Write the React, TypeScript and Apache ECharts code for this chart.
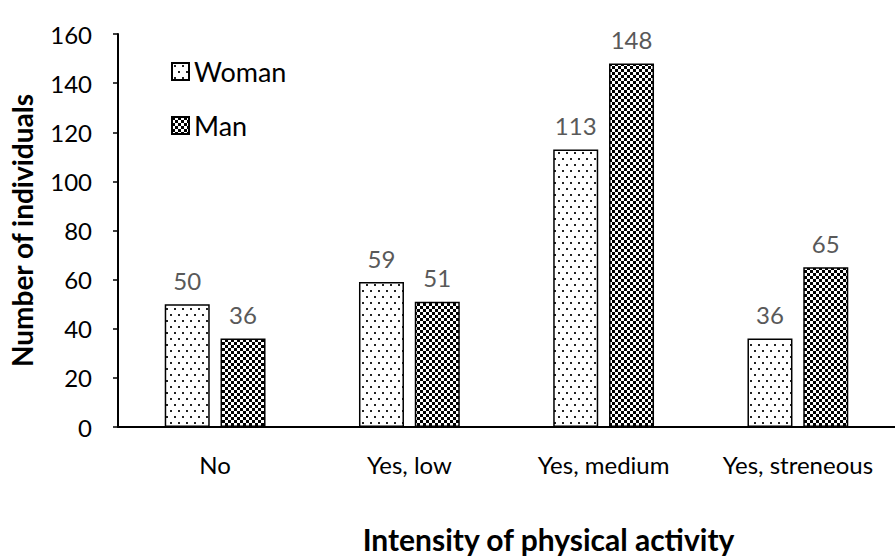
import React, { useEffect, useRef } from "react";
import * as echarts from "echarts";

const categories = ["No", "Yes, low", "Yes, medium", "Yes, streneous"];
const womanValues = [50, 59, 113, 36];
const manValues = [36, 51, 148, 65];
const seriesNames = ["Woman", "Man"];
const yTicks = { min: 0, max: 160, interval: 20 };

function makeDots(): HTMLCanvasElement {
  const c = document.createElement("canvas");
  c.width = 8;
  c.height = 12;
  const ctx = c.getContext("2d")!;
  ctx.fillStyle = "#ffffff";
  ctx.fillRect(0, 0, 8, 12);
  ctx.fillStyle = "#222222";
  ctx.fillRect(2, 2, 2, 2);
  ctx.fillRect(6, 8, 2, 2);
  return c;
}

function makeChecker(): HTMLCanvasElement {
  const c = document.createElement("canvas");
  c.width = 6;
  c.height = 6;
  const ctx = c.getContext("2d")!;
  ctx.fillStyle = "#ffffff";
  ctx.fillRect(0, 0, 6, 6);
  ctx.fillStyle = "#000000";
  ctx.fillRect(0, 0, 3, 3);
  ctx.fillRect(3, 3, 3, 3);
  return c;
}

export default function App() {
  const ref = useRef<HTMLDivElement>(null);
  useEffect(() => {
    document.body.style.margin = "0";
    if (!ref.current) return;
    const chart = echarts.init(ref.current, undefined, { renderer: "svg" });
    const dots = makeDots();
    const checker = makeChecker();
    const font = "Lato, 'Open Sans', sans-serif";
    const labelStyle = {
      show: true,
      position: "top" as const,
      distance: 12,
      color: "#595959",
      fontSize: 24,
      fontFamily: font,
    };
    chart.setOption({
      animation: false,
      textStyle: { fontFamily: font },
      grid: { left: 114, top: 34, width: 792, height: 399, containLabel: false },
      legend: {
        orient: "vertical",
        left: 166,
        top: 53,
        itemGap: 27,
        itemWidth: 17,
        itemHeight: 17,
        icon: "rect",
        textStyle: { fontSize: 27, color: "#000", fontFamily: font },
        data: seriesNames,
      },
      xAxis: {
        type: "category",
        data: categories,
        axisLine: { show: true, lineStyle: { color: "#000", width: 2 } },
        axisTick: { show: false },
        axisLabel: { color: "#000", fontSize: 24, margin: 25, fontFamily: font, interval: 0 },
        name: "Intensity of physical activity",
        nameLocation: "middle",
        nameGap: 97,
        nameTextStyle: {
          fontSize: 30,
          fontWeight: "bold",
          color: "#000",
          fontFamily: font,
          padding: [0, 0, 0, 84],
        },
      },
      yAxis: {
        type: "value",
        min: yTicks.min,
        max: yTicks.max,
        interval: yTicks.interval,
        splitLine: { show: false },
        axisLine: { show: true, lineStyle: { color: "#000", width: 2 } },
        axisTick: { show: true, length: 5, lineStyle: { color: "#000", width: 1.5 } },
        axisLabel: { color: "#000", fontSize: 24, margin: 26, fontFamily: font },
        name: "Number of individuals",
        nameLocation: "middle",
        nameGap: 82,
        nameTextStyle: { fontSize: 28, fontWeight: "bold", color: "#000", fontFamily: font },
      },
      series: [
        {
          name: seriesNames[0],
          type: "bar",
          data: womanValues,
          barWidth: 45,
          barGap: "24%",
          itemStyle: {
            color: { image: dots, repeat: "repeat", imageWidth: 8, imageHeight: 12 },
            borderColor: "#000",
            borderWidth: 1.5,
          },
          label: labelStyle,
        },
        {
          name: seriesNames[1],
          type: "bar",
          data: manValues,
          barWidth: 45,
          barGap: "24%",
          itemStyle: {
            color: { image: checker, repeat: "repeat", imageWidth: 6, imageHeight: 6 },
            borderColor: "#000",
            borderWidth: 1.5,
          },
          label: labelStyle,
        },
      ],
    });
    return () => chart.dispose();
  }, []);
  return <div ref={ref} style={{ width: 895, height: 559 }} />;
}
